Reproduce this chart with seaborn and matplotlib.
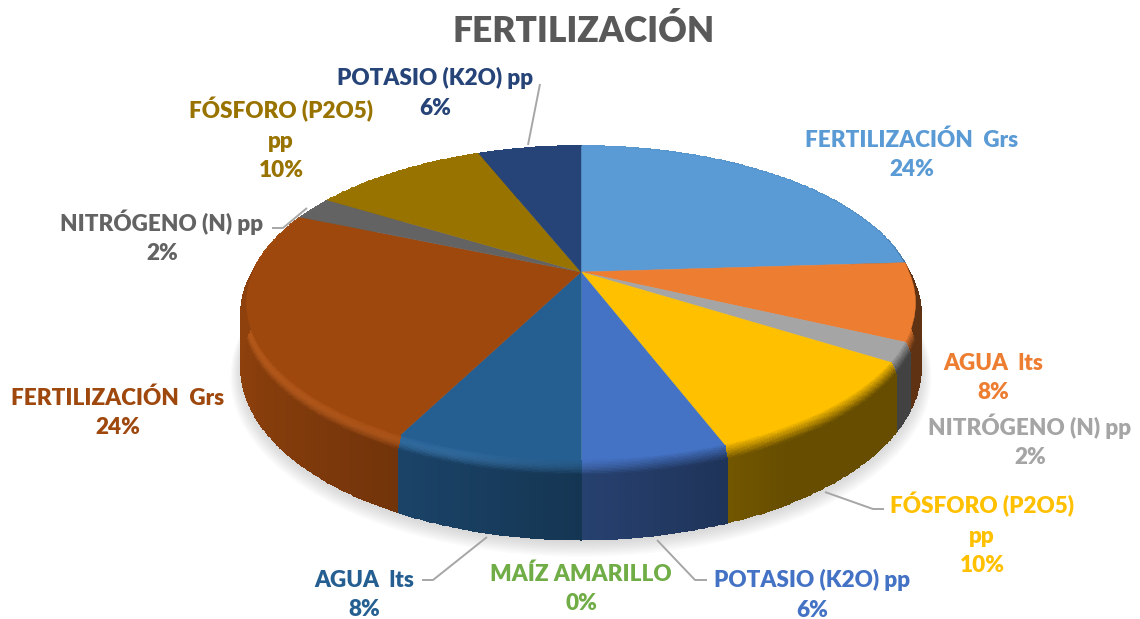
import numpy as np
import matplotlib
matplotlib.use("Agg")
import matplotlib.pyplot as plt
from matplotlib.transforms import Transform
import seaborn as sns

# chart data (shares estimated from the slice boundaries, labels show them rounded)
names = ["FERTILIZACIÓN  Grs", "AGUA  lts", "NITRÓGENO (N) pp", "FÓSFORO (P2O5)\npp",
         "POTASIO (K2O) pp", "MAÍZ AMARILLO", "AGUA  lts", "FERTILIZACIÓN  Grs",
         "NITRÓGENO (N) pp", "FÓSFORO (P2O5)\npp", "POTASIO (K2O) pp"]
percents = [24, 8, 2, 10.2, 5.8, 0, 7.5, 23.9, 2.4, 10.2, 6]
slice_colors = ["#5B9BD5", "#ED7D31", "#A5A5A5", "#FFC000", "#4472C4", "#70AD47",
                "#255E91", "#9E480E", "#636363", "#997300", "#264478"]

# layout, in pixels of the 1140x619 picture
label_xy = [(912, 155), (993, 378), (1030, 441), (982, 534), (812, 595), (581, 589),
            (364, 595), (118, 413), (162, 237), (281, 139), (435, 93)]
leaders = [[(528, 145), (540, 84)],
           [(272, 228), (283, 228), (307, 208)],
           [(422, 580), (433, 580), (487, 537)],
           [(657, 540), (695, 580), (707, 580)],
           [(825, 492), (873, 509), (884, 509)]]
CX, CY, R = 581, 272, 333
A, B, DEPTH = 153, 0.20, 61
BEVEL = 0.16


class DiscProjection(Transform):
    input_dims = output_dims = 2

    def __init__(self, z=0.0):
        super().__init__()
        self.z = z

    def transform_non_affine(self, values):
        values = np.asarray(values)
        u, v = values[:, 0], values[:, 1]
        w = 1 + B * v
        return np.column_stack((CX + R * u / w, CY - (A * v - DEPTH * self.z) / w))


sns.set_theme(style="white")
plt.rcParams["font.family"] = ["Lato", "DejaVu Sans"]
palette = sns.color_palette(slice_colors)

fig, ax = plt.subplots(figsize=(11.4, 6.19), dpi=100)
fig.subplots_adjust(0, 0, 1, 1)

# soft shadow under the disc
for i in range(10):
    shadow, _ = ax.pie([1], colors=["#808080"], radius=1.03 - i * 0.004, startangle=90,
                       wedgeprops=dict(linewidth=0, alpha=0.04))
    for w in shadow:
        w.set_transform(DiscProjection(1.12 - i * 0.012) + ax.transData)
        w.set_zorder(1)

# side wall and rounded rim of each slice
edges = np.cumsum([0] + percents) / 100 * 2 * np.pi
for start, stop, col in zip(edges[:-1], edges[1:], palette):
    if stop <= start:
        continue
    th = np.linspace(start, stop, max(int((stop - start) * 120), 2))
    zs = np.r_[np.linspace(0, BEVEL, 12), np.linspace(BEVEL + 0.02, 1, 4)]
    T, Z = np.meshgrid(th, zs)
    rad = 0.985 + 0.015 * np.clip(Z / BEVEL, 0, 1)
    U, V = rad * np.sin(T), rad * np.cos(T)
    W = 1 + B * V
    X = CX + R * U / W
    Y = CY - (A * V - DEPTH * Z) / W

    um = 0.5 * (U[:-1, 1:] + U[:-1, :-1])
    zm = 0.5 * (Z[1:, 1:] + Z[:-1, :-1])
    shade = np.clip(0.42 + 0.48 * (0.45 - um) / 1.45, 0.40, 0.92)
    t = np.clip(zm / BEVEL, 0, 1)
    left = np.clip((0.2 - um) / 0.5, 0, 1)
    rgb = np.zeros(um.shape + (3,))
    for k in range(3):
        wall = col[k] * shade
        rim = col[k] * (1 - t) + wall * t
        glow = np.sin(np.pi * t) * left * 0.12
        rgb[..., k] = np.clip(rim + glow * (0.35 + col[k]), 0, 1)
    mesh = ax.pcolormesh(X, Y, rgb, shading="flat", zorder=2, edgecolors="face", linewidth=0.2)

# top face
wedges, _ = ax.pie(percents, colors=palette, radius=0.985, startangle=90, counterclock=False,
                   wedgeprops=dict(linewidth=0))
for w in wedges:
    w.set_edgecolor(w.get_facecolor())
    w.set_linewidth(0.3)
    w.set_transform(DiscProjection(0.0) + ax.transData)
    w.set_zorder(3)

ax.set_aspect("auto")
ax.set_xlim(0, 1140)
ax.set_ylim(619, 0)
ax.axis("off")

for path in leaders:
    xs, ys = zip(*path)
    ax.plot(xs, ys, color="#A6A6A6", lw=1.4, zorder=4, solid_capstyle="butt")

for name, pct, col, (x, y) in zip(names, percents, palette, label_xy):
    ax.text(x, y, f"{name}\n{pct:.0f}%", color=col, fontsize=16.2, fontweight="heavy", ha="center",
            va="center", linespacing=1.5, zorder=5)

ax.text(584, 31, "FERTILIZACIÓN", color="#595959", fontsize=25.4, fontweight="heavy", ha="center",
        va="center", zorder=5)

fig.savefig("out.png", dpi=100)
